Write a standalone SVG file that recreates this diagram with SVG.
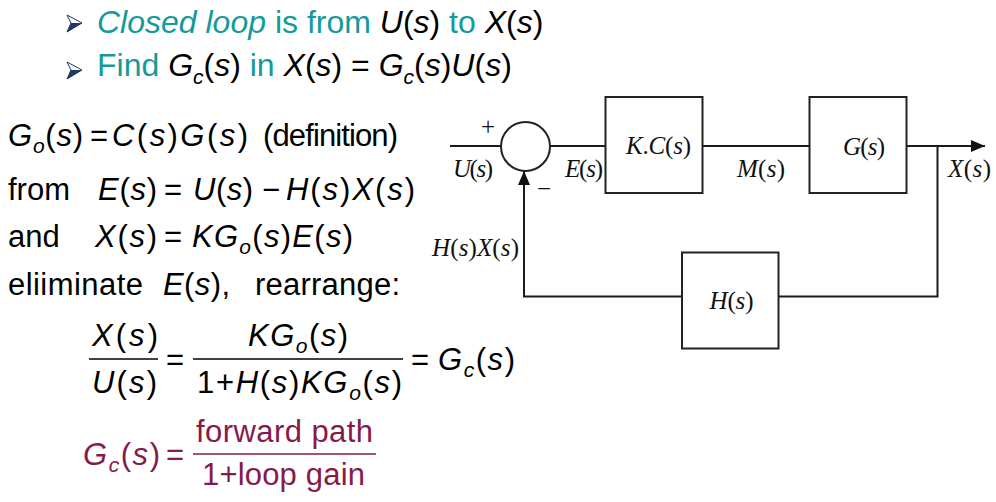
<svg xmlns="http://www.w3.org/2000/svg" width="996" height="502" viewBox="0 0 996 502">
<defs>
<style>
.t{font-family:"Liberation Sans",Arial,sans-serif;font-size:31px;fill:#000}
.h{font-family:"Liberation Sans",Arial,sans-serif;font-size:32px;fill:#000}
.i{font-style:italic}
.teal{fill:#149a9a}
.mar{fill:#861a4b}
.d{font-family:"Liberation Serif","Times New Roman",serif;font-size:25px;fill:#111}
.ln{stroke:#1a1a1a;stroke-width:2;fill:none}
.box{stroke:#222;stroke-width:2;fill:#fff}
.bar{stroke:#000;stroke-width:1.5}
.bmar{stroke:#861a4b;stroke-width:1.5}
.bul{fill:#fff;stroke:#1f3864;stroke-width:1}
.buld{fill:#1f3864}
</style>
<marker id="arr" markerUnits="userSpaceOnUse" markerWidth="14" markerHeight="12" refX="14" refY="6" orient="auto">
<path d="M0,0 L14,6 L0,12 z" fill="#111"/>
</marker>
</defs>

<!-- bullets and headline -->
<g id="bullets">
<polygon class="bul" points="67,15 82,23 67,32 71,23"/>
<polygon class="buld" points="71,23 82,23 67,32"/>
<polygon class="bul" points="67,62 82,70 67,79 71,70"/>
<polygon class="buld" points="71,70 82,70 67,79"/>
</g>
<text class="h teal" x="97" y="33"><tspan class="i">Closed loop</tspan> is from <tspan fill="#000"><tspan class="i">U</tspan>(<tspan class="i">s</tspan>)</tspan> to <tspan fill="#000"><tspan class="i">X</tspan>(<tspan class="i">s</tspan>)</tspan></text>
<text class="h teal" x="97" y="75.5">Find <tspan fill="#000"><tspan class="i">G</tspan><tspan class="i" font-size="21" dy="8">c</tspan><tspan dy="-8">(</tspan><tspan class="i">s</tspan>)</tspan> in <tspan fill="#000"><tspan class="i">X</tspan>(<tspan class="i">s</tspan>) = <tspan class="i">G</tspan><tspan class="i" font-size="21" dy="8">c</tspan><tspan dy="-8">(</tspan><tspan class="i">s</tspan>)<tspan class="i">U</tspan>(<tspan class="i">s</tspan>)</tspan></text>

<!-- derivation -->
<g id="derivation">
<text class="t" x="8" y="145.5" textLength="75" lengthAdjust="spacing"><tspan class="i">G</tspan><tspan class="i" font-size="21" dy="7">o</tspan><tspan dy="-7">(</tspan><tspan class="i">s</tspan>)</text>
<text class="t" x="90" y="145.5" font-size="28">=</text>
<text class="t" x="112" y="145.5" textLength="136" lengthAdjust="spacing"><tspan class="i">C</tspan>(<tspan class="i">s</tspan>)<tspan class="i">G</tspan>(<tspan class="i">s</tspan>)</text>
<text class="t" x="263" y="145.5" textLength="135" lengthAdjust="spacing">(definition)</text>

<text class="t" x="8" y="200">from</text>
<text class="t" x="98" y="200" textLength="59" lengthAdjust="spacing"><tspan class="i">E</tspan>(<tspan class="i">s</tspan>)</text>
<text class="t" x="164" y="200">=</text>
<text class="t" x="193" y="200" textLength="60" lengthAdjust="spacing"><tspan class="i">U</tspan>(<tspan class="i">s</tspan>)</text>
<text class="t" x="262" y="200">−</text>
<text class="t" x="286" y="200" textLength="129" lengthAdjust="spacing"><tspan class="i">H</tspan>(<tspan class="i">s</tspan>)<tspan class="i">X</tspan>(<tspan class="i">s</tspan>)</text>

<text class="t" x="8" y="246.5">and</text>
<text class="t" x="95" y="246.5" textLength="62" lengthAdjust="spacing"><tspan class="i">X</tspan>(<tspan class="i">s</tspan>)</text>
<text class="t" x="164" y="246.5">=</text>
<text class="t" x="192" y="246.5" textLength="161" lengthAdjust="spacing"><tspan class="i">KG</tspan><tspan class="i" font-size="21" dy="7">o</tspan><tspan dy="-7">(</tspan><tspan class="i">s</tspan>)<tspan class="i">E</tspan>(<tspan class="i">s</tspan>)</text>

<text class="t" x="8" y="294.5" textLength="135" lengthAdjust="spacing">eliiminate</text>
<text class="t" x="163" y="294.5" textLength="67" lengthAdjust="spacing"><tspan class="i">E</tspan>(<tspan class="i">s</tspan>),</text>
<text class="t" x="255" y="294.5" textLength="145" lengthAdjust="spacing">rearrange:</text>

<text class="t" x="92" y="346" textLength="66" lengthAdjust="spacing"><tspan class="i">X</tspan>(<tspan class="i">s</tspan>)</text>
<line class="bar" x1="89" y1="359" x2="158" y2="359"/>
<text class="t" x="92" y="393" textLength="65" lengthAdjust="spacing"><tspan class="i">U</tspan>(<tspan class="i">s</tspan>)</text>
<text class="t" x="166" y="369.5">=</text>
<text class="t" x="248" y="346" textLength="100" lengthAdjust="spacing"><tspan class="i">KG</tspan><tspan class="i" font-size="21" dy="7">o</tspan><tspan dy="-7">(</tspan><tspan class="i">s</tspan>)</text>
<line class="bar" x1="193" y1="359" x2="403" y2="359"/>
<text class="t" x="197" y="393" textLength="205" lengthAdjust="spacing">1+<tspan class="i">H</tspan>(<tspan class="i">s</tspan>)<tspan class="i">KG</tspan><tspan class="i" font-size="21" dy="7">o</tspan><tspan dy="-7">(</tspan><tspan class="i">s</tspan>)</text>
<text class="t" x="411" y="369.5">=</text>
<text class="t" x="438" y="370" textLength="77" lengthAdjust="spacing"><tspan class="i">G</tspan><tspan class="i" font-size="21" dy="7">c</tspan><tspan dy="-7">(</tspan><tspan class="i">s</tspan>)</text>

<text class="t mar" x="83" y="465" textLength="77" lengthAdjust="spacing"><tspan class="i">G</tspan><tspan class="i" font-size="21" dy="7">c</tspan><tspan dy="-7">(</tspan><tspan class="i">s</tspan>)</text>
<text class="t mar" x="166" y="464.5">=</text>
<text class="t mar" x="196" y="442" textLength="177" lengthAdjust="spacing">forward path</text>
<line class="bmar" x1="193" y1="454" x2="376" y2="454"/>
<text class="t mar" x="202" y="485" textLength="163" lengthAdjust="spacing">1+loop gain</text>
</g>

<!-- connectors -->
<g id="connectors">
<line class="ln" x1="450" y1="146" x2="501" y2="146"/>
<line class="ln" x1="550" y1="146" x2="605.5" y2="146"/>
<line class="ln" x1="702.5" y1="146" x2="809.5" y2="146"/>
<line class="ln" x1="906.5" y1="146" x2="985" y2="146" marker-end="url(#arr)"/>
<polyline class="ln" points="937.5,146 937.5,296.5 778.5,296.5"/>
<polyline class="ln" points="682,296.5 524,296.5 524,171" marker-end="url(#arr)"/>
</g>

<!-- nodes -->
<g id="sum">
<circle cx="525.5" cy="146.5" r="24.5" class="box"/>
<text class="d" x="488" y="135" text-anchor="middle" font-size="22">+</text>
<text class="d" x="544" y="197" text-anchor="middle" font-size="22">−</text>
</g>
<g id="kc">
<rect class="box" x="605.5" y="97" width="97" height="96"/>
<text class="d" x="626" y="153.5" textLength="65" lengthAdjust="spacing"><tspan class="i">K</tspan>.<tspan class="i">C</tspan>(<tspan class="i">s</tspan>)</text>
</g>
<g id="g">
<rect class="box" x="809.5" y="97" width="97" height="96"/>
<text class="d" x="843" y="155" textLength="42" lengthAdjust="spacing"><tspan class="i">G</tspan>(<tspan class="i">s</tspan>)</text>
</g>
<g id="h">
<rect class="box" x="682" y="252.5" width="96.5" height="96"/>
<text class="d" x="709.5" y="308.5" textLength="44" lengthAdjust="spacing"><tspan class="i">H</tspan>(<tspan class="i">s</tspan>)</text>
</g>

<!-- signal labels -->
<g id="labels">
<text class="d" x="453" y="177" textLength="40" lengthAdjust="spacing"><tspan class="i">U</tspan>(<tspan class="i">s</tspan>)</text>
<text class="d" x="565" y="177" textLength="38" lengthAdjust="spacing"><tspan class="i">E</tspan>(<tspan class="i">s</tspan>)</text>
<text class="d" x="737" y="177" textLength="48" lengthAdjust="spacing"><tspan class="i">M</tspan>(<tspan class="i">s</tspan>)</text>
<text class="d" x="948" y="177" textLength="43" lengthAdjust="spacing"><tspan class="i">X</tspan>(<tspan class="i">s</tspan>)</text>
<text class="d" x="432" y="256" textLength="87" lengthAdjust="spacing"><tspan class="i">H</tspan>(<tspan class="i">s</tspan>)<tspan class="i">X</tspan>(<tspan class="i">s</tspan>)</text>
</g>
</svg>
